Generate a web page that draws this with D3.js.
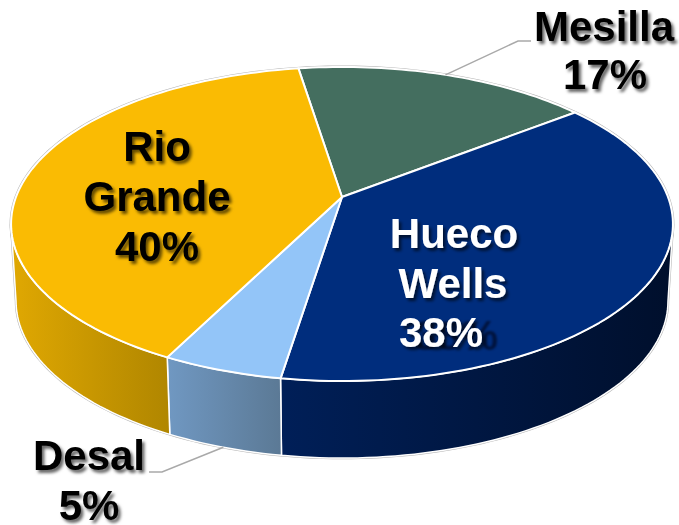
<!DOCTYPE html>
<html>
<head>
<meta charset="utf-8">
<style>
html, body { margin: 0; padding: 0; background: #fff; }
text { font-family: "Liberation Sans", Arial, sans-serif; font-weight: bold; font-size: 42px; text-anchor: middle; }
</style>
<script src="https://cdn.jsdelivr.net/npm/d3@7"></script>
</head>
<body>
<div id="chart"></div>
<script>
// slices, clockwise from the Rio Grande / Mesilla edge
const names = ['Mesilla', 'Hueco Wells', 'Desal', 'Rio Grande'];
const values = [17, 38, 5, 40];
const topColors = ['#446e5f', '#002d7d', '#93c5f8', '#fabb03'];
const wallFrom = ['#446e5f', '#001f58', '#7098c2', '#e0a802'];
const wallTo = ['#304e44', '#000f2c', '#5b7995', '#b08600'];

const width = 679, height = 525;
const cx = 342, cy = 197;
const rx = 326, ry = 152.4, persp = 0.172;
const depth = 77;
const startDeg = -9;

const svg = d3.select('#chart').append('svg')
    .attr('width', width)
    .attr('height', height)
    .style('display', 'block');

const defs = svg.append('defs');

const shadow = defs.append('filter').attr('id', 'shadow')
    .attr('x', '-20%').attr('y', '-20%').attr('width', '140%').attr('height', '150%');
shadow.append('feDropShadow')
    .attr('dx', 2.5).attr('dy', 3)
    .attr('stdDeviation', 1.4)
    .attr('flood-color', '#000')
    .attr('flood-opacity', 0.6);

wallFrom.forEach((c, i) => {
    let g = defs.append('linearGradient').attr('id', 'wall' + i);
    g.append('stop').attr('offset', '0%').attr('stop-color', c);
    g.append('stop').attr('offset', '100%').attr('stop-color', wallTo[i]);
});

// unit circle -> screen, with the near side of the disc drawn larger
function project(a, drop, shrink) {
    let u = Math.sin(a), v = Math.cos(a);
    let w = 1 + persp * v;
    return [cx + shrink * rx * u / w, cy - ry * v / w + drop];
}
const topRim = a => project(a, 0, 1);
const bottomRim = a => project(a, depth, 0.985);

const pie = d3.pie().sort(null).value(d => d)
    .startAngle(startDeg * Math.PI / 180)
    .endAngle((startDeg + 360) * Math.PI / 180);
const arcs = pie(values);

const line = d3.line();
function arcPts(a0, a1, f) {
    let n = Math.max(2, Math.ceil(Math.abs(a1 - a0) * 40));
    return d3.range(n + 1).map(i => f(a0 + (a1 - a0) * i / n));
}

// walls only show on the near half
const frontFrom = 100 * Math.PI / 180, frontTo = 260 * Math.PI / 180;

// grey outline behind everything
const outline = arcPts(0, 2 * Math.PI, topRim);
svg.append('path')
    .attr('d', line(outline) + 'Z')
    .attr('fill', 'none')
    .attr('stroke', '#b5b5b5')
    .attr('stroke-width', 3);
svg.append('path')
    .attr('d', line(arcPts(frontFrom, frontTo, topRim).concat(arcPts(frontTo, frontFrom, bottomRim))) + 'Z')
    .attr('fill', '#fff')
    .attr('stroke', '#b5b5b5')
    .attr('stroke-width', 2.5);

arcs.forEach((d, i) => {
    let a0 = Math.max(d.startAngle, frontFrom), a1 = Math.min(d.endAngle, frontTo);
    if (a1 <= a0) return;
    let pts = arcPts(a0, a1, topRim).concat(arcPts(a1, a0, bottomRim));
    svg.append('path')
        .attr('d', line(pts) + 'Z')
        .attr('fill', 'url(#wall' + i + ')')
        .attr('stroke', '#fff')
        .attr('stroke-width', 1.5)
        .attr('stroke-linejoin', 'round');
});

arcs.forEach((d, i) => {
    let pts = [[cx, cy]].concat(arcPts(d.startAngle, d.endAngle, topRim));
    svg.append('path')
        .attr('d', line(pts) + 'Z')
        .attr('fill', topColors[i])
        .attr('stroke', '#fff')
        .attr('stroke-width', 2)
        .attr('stroke-linejoin', 'round');
});

// leader lines start at the middle of their slice
function leader(i, f, elbow, end) {
    let mid = (arcs[i].startAngle + arcs[i].endAngle) / 2;
    svg.append('path')
        .attr('d', line([f(mid), elbow, end]))
        .attr('fill', 'none')
        .attr('stroke', '#a9a9a9')
        .attr('stroke-width', 1.5);
}
leader(0, topRim, [518, 41], [531, 41]);
leader(2, bottomRim, [162, 472], [149, 472]);

// the stray shadow behind 38%
svg.append('text')
    .attr('x', 456).attr('y', 350)
    .attr('fill', '#000f33')
    .attr('opacity', 0.85)
    .style('filter', 'blur(1px)')
    .text(values[1] + '%');

const labels = [
    { i: 0, x: [604, 605], y: [41, 89], fill: '#000' },
    { i: 1, x: [454, 453, 441], y: [248, 298, 347], fill: '#fff' },
    { i: 2, x: [89, 89], y: [470, 520], fill: '#000' },
    { i: 3, x: [157, 157, 157], y: [161, 211, 261], fill: '#000' }
];
labels.forEach(l => {
    let lines = names[l.i].split(' ').concat(values[l.i] + '%');
    lines.forEach((s, j) => {
        svg.append('text')
            .attr('x', l.x[j]).attr('y', l.y[j])
            .attr('fill', l.fill)
            .attr('filter', 'url(#shadow)')
            .text(s);
    });
});
</script>
</body>
</html>
